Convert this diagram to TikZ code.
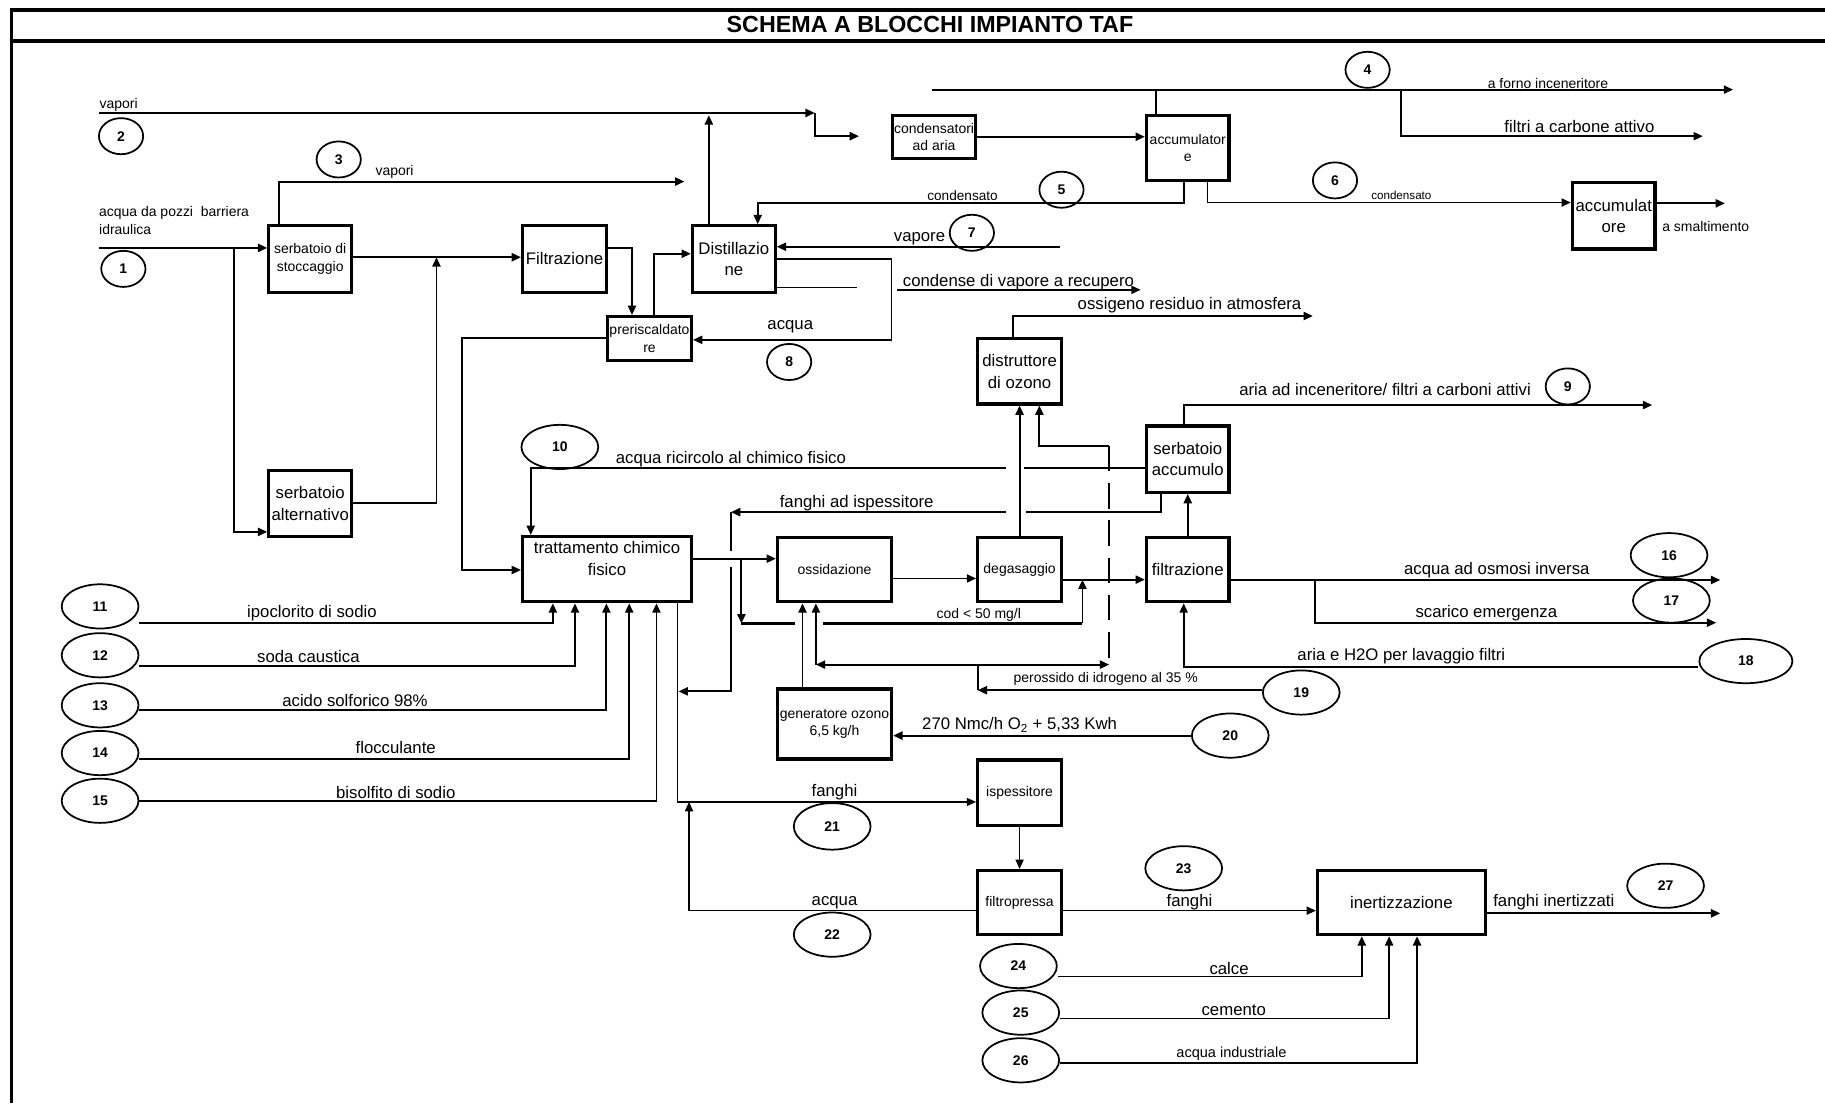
\documentclass[tikz,border=0pt]{standalone}
\usepackage{fontspec}
\setmainfont{Liberation Sans}
\usetikzlibrary{arrows.meta,shapes.geometric}
\newcommand\myL{\fontsize{14.4}{18.5}\selectfont}
\newcommand\myS{\fontsize{12}{15}\selectfont}
\newcommand\myN{\fontsize{12}{14}\selectfont\bfseries}
\begin{document}
\begin{tikzpicture}[x=1pt,y=-1pt,
 box/.style={draw,line width=2.8pt,inner sep=0pt,align=center,font=\myL},
 sbox/.style={box,font=\myS},
 num/.style={draw,ellipse,line width=1.5pt,inner sep=0pt,font=\myN,minimum width=38pt,minimum height=31pt},
 numL/.style={num,minimum width=66pt,minimum height=38pt},
 lbl/.style={inner sep=0pt,font=\myL},
 slbl/.style={inner sep=0pt,font=\myS},
 conn/.style={line width=1.6pt},
 thinconn/.style={line width=1pt},
 arr/.style={conn,-{Triangle[length=8pt,width=7pt]}},
 tarr/.style={thinconn,-{Triangle[length=8pt,width=7pt]}},
 darr/.style={conn,{Triangle[length=8pt,width=7pt]}-{Triangle[length=8pt,width=7pt]}},
]
\useasboundingbox (0,0) rectangle (1568,948);
% frame
\draw[line width=3pt] (10,8.5) -- (1568,8.5);
\draw[line width=3.5pt] (10,35) -- (1568,35);
\draw[line width=2.5pt] (10,7) -- (10,948);
\node[font=\fontsize{20}{24}\selectfont\bfseries] (title) at (799,21) {SCHEMA A BLOCCHI IMPIANTO TAF};

% boxes
\node[sbox,minimum width=71pt,minimum height=57pt] (stocc) at (266.5,222.5) {serbatoio di\\stoccaggio};
\node[box,minimum width=72pt,minimum height=57pt] (filt1) at (485,222.5) {Filtrazione};
\node[box,minimum width=71pt,minimum height=57pt] (dist) at (630.5,222.5) {Distillazio\\ne};
\node[sbox,minimum width=72pt,minimum height=38pt] (prer) at (558,291) {preriscaldato\\re};
\node[box,minimum width=71pt,minimum height=57pt] (alt) at (266.5,432.5) {serbatoio\\alternativo};
\node[box,minimum width=145pt,minimum height=56pt] (tratt) at (521.5,489) {trattamento chimico\\fisico\\\phantom{x}};
\node[sbox,minimum width=98pt,minimum height=55pt] (ossid) at (717,489.5) {ossidazione};
\node[sbox,minimum width=72pt,minimum height=55pt] (degas) at (876,489.5) {degasaggio};
\node[box,minimum width=71pt,minimum height=55pt] (filt2) at (1020.5,489.5) {filtrazione};
\node[box,minimum width=71pt,minimum height=57pt] (sacc) at (1020.5,394.5) {serbatoio\\accumulo};
\node[box,minimum width=72pt,minimum height=56pt] (distr) at (876,319) {distruttore\\di ozono};
\node[sbox,minimum width=98pt,minimum height=60pt] (genoz) at (717,622) {generatore ozono\\6,5 kg/h};
\node[sbox,minimum width=72pt,minimum height=56pt] (isp) at (876,681) {ispessitore};
\node[sbox,minimum width=72pt,minimum height=55pt] (filtrop) at (876,775.5) {filtropressa};
\node[box,minimum width=144pt,minimum height=55pt] (inert) at (1204,775.5) {inertizzazione};
\node[sbox,minimum width=71pt,minimum height=37pt] (cond) at (802.5,117.5) {condensatori\\ad aria};
\node[sbox,minimum width=71pt,minimum height=56pt] (acc1) at (1020.5,127) {accumulator\\e};
\node[box,minimum width=71pt,minimum height=57pt] (acc2) at (1386.5,185.5) {accumulat\\ore};

% numbered ovals
\node[num] (n1) at (106,231) {1};
\node[num] (n2) at (104,117) {2};
\node[num] (n3) at (291,137) {3};
\node[num] (n4) at (1175,60) {4};
\node[num] (n5) at (912,163) {5};
\node[num] (n6) at (1147,155) {6};
\node[num] (n7) at (835,200) {7};
\node[num] (n8) at (678,311) {8};
\node[num] (n9) at (1347,332) {9};
\node[numL] (n10) at (481,384) {10};
\node[numL] (n11) at (86,521) {11};
\node[numL] (n12) at (86,563) {12};
\node[numL] (n13) at (86,606) {13};
\node[numL] (n14) at (86,647) {14};
\node[numL] (n15) at (86,688) {15};
\node[numL] (n16) at (1434,477) {16};
\node[numL] (n17) at (1436,516) {17};
\node[numL,minimum width=80pt] (n18) at (1500,568) {18};
\node[numL] (n19) at (1118,595) {19};
\node[numL] (n20) at (1057,632) {20};
\node[numL,minimum height=40pt] (n21) at (715,710) {21};
\node[numL] (n22) at (715,803) {22};
\node[numL] (n23) at (1017,746) {23};
\node[numL] (n24) at (875,830) {24};
\node[numL] (n25) at (877,870) {25};
\node[numL] (n26) at (877,911) {26};
\node[numL] (n27) at (1431,761) {27};

% coordinates
\coordinate (v2s) at (85,97);
\coordinate (v2m) at (700,97);
\coordinate (v2b) at (700,117);
\coordinate (v2e) at (738,117);
\coordinate (dv) at (609,99);
\coordinate (v3a) at (240,156);
\coordinate (v3e) at (588,156);
\coordinate (in1) at (85,213);
\coordinate (br1) at (201,213);
\coordinate (br1b) at (201,457);
\coordinate (sf) at (375,221);
\coordinate (ac) at (375,432.5);
\coordinate (fp) at (543,213);
\coordinate (pd) at (562,218);
\coordinate (da1) at (766,222.5);
\coordinate (da2) at (766,292);
\coordinate (dl) at (736,247);
\coordinate (cr1) at (771,249);
\coordinate (cr2) at (980,249);
\coordinate (vp) at (911,212);
\coordinate (c5a) at (1017,174.7);
\coordinate (c5b) at (651,174.7);
\coordinate (c6a) at (1037.5,174);
\coordinate (l4s) at (801,77);
\coordinate (l4e) at (1489,77);
\coordinate (a4) at (993,77);
\coordinate (b4) at (1204,77);
\coordinate (b4b) at (1204,117);
\coordinate (b4e) at (1463,117);
\coordinate (sm) at (1482,174.7);
\coordinate (o1) at (870,271.5);
\coordinate (o2) at (1128,271.5);
\coordinate (s1) at (1017,348);
\coordinate (s2) at (1419.5,348);
\coordinate (dz1) at (893,383);
\coordinate (dz2) at (953,383);
\coordinate (pe1) at (701,571);
\coordinate (pe2) at (953,571);
\coordinate (p19) at (840,593);
\coordinate (p19t) at (840,571);
\coordinate (g1) at (689.5,600);
\coordinate (od) at (800,497);
\coordinate (df) at (950,498);
\coordinate (t1) at (637,480);
\coordinate (t2) at (637,535.6);
\coordinate (gA) at (683,535.6);
\coordinate (gB) at (707,535.6);
\coordinate (t3) at (930,535.6);
\coordinate (t4) at (930,498);
\coordinate (f1) at (997.5,440);
\coordinate (fA) at (881.5,440);
\coordinate (fB) at (864,440);
\coordinate (f2) at (628,440);
\coordinate (fC) at (628,473);
\coordinate (fD) at (628,487);
\coordinate (f3) at (628,594);
\coordinate (f4) at (583,594);
\coordinate (r1) at (456,402);
\coordinate (rA) at (880,402);
\coordinate (rB) at (864,402);
\coordinate (q1) at (397,290.7);
\coordinate (q2) at (397,489.7);
\coordinate (k11) at (475,535);
\coordinate (k12) at (494,572);
\coordinate (k13) at (521,610);
\coordinate (k14) at (540.6,652);
\coordinate (k15) at (564,688);
\coordinate (fg1) at (582,689);
\coordinate (a22) at (592,782.4);
\coordinate (a22t) at (592,689);
\coordinate (ie) at (1478,784.7);
\coordinate (k24) at (1170,839);
\coordinate (k25) at (1193.5,875);
\coordinate (k26) at (1217.5,913);
\coordinate (fo) at (1478,498.3);
\coordinate (fb1) at (1130,498.3);
\coordinate (fb2) at (1130,535);
\coordinate (fo2) at (1474.5,535);
\coordinate (k18) at (1017,572.8);

% connectors top
\draw[arr] (v2s) -- (v2m);
\draw[arr] (v2m) -- (v2b) -- (v2e);
\draw[arr] (dist.north -| dv) -- (dv);
\draw[arr] (stocc.north -| v3a) -- (v3a) -- (v3e);
\draw[arr] (in1) -- (stocc.west |- in1);
\draw[arr] (br1) -- (br1b) -- (alt.west |- br1b);
\draw[arr] (stocc.east |- sf) -- (filt1.west |- sf);
\draw[arr] (alt.east |- ac) -- (ac) -- (sf);
\draw[arr] (filt1.east |- fp) -- (fp) -- (prer.north -| fp);
\draw[arr] (prer.north -| pd) -- (pd) -- (dist.west |- pd);
\draw[arr] (dist.east |- da1) -- (da1) -- (da2) -- (prer.east |- da2);
\draw[conn] (dist.east |- dl) -- (dl);
\draw[arr] (cr1) -- (cr2);
\draw[arr] (vp) -- (dist.east |- vp);
\draw[arr] (acc1.south -| c5a) -- (c5a) -- (c5b) -- (dist.north -| c5b);
\draw[arr] (acc1.south -| c6a) -- (c6a) -- (acc2.west |- c6a);
\draw[arr] (cond.east) -- (acc1.west |- cond.east);
\draw[arr] (l4s) -- (l4e);
\draw[conn] (acc1.north -| a4) -- (a4);
\draw[arr] (b4) -- (b4b) -- (b4e);
\draw[arr] (acc2.east |- sm) -- (sm);
\draw[arr] (distr.north -| o1) -- (o1) -- (o2);
\draw[arr] (sacc.north -| s1) -- (s1) -- (s2);

% middle
\draw[arr] (degas.north) -- (distr.south);
\draw[arr] (dz2) -- (dz1) -- (distr.south -| dz1);
\draw[conn,dash pattern=on 22pt off 10pt] (dz2) -- (pe2);
\draw[darr] (pe1) -- (pe2);
\draw[arr] (pe1) -- (ossid.south -| pe1);
\draw[arr] (n19.west |- p19) -- (p19);
\draw[conn] (p19t) -- (p19);
\draw[arr] (genoz.north -| g1) -- (ossid.south -| g1);
\draw[arr] (ossid.east |- od) -- (degas.west |- od);
\draw[arr] (degas.east |- df) -- (filt2.west |- df);
\draw[arr] (tratt.east |- t1) -- (ossid.west |- t1);
\draw[arr] (t1) -- (t2);
\draw[line width=2.4pt] (t2) -- (gA);
\draw[line width=2.4pt] (gB) -- (t3);
\draw[arr] (t3) -- (t4);
\draw[conn] (sacc.south -| f1) -- (f1) -- (fA);
\draw[arr] (fB) -- (f2);
\draw[conn] (f2) -- (fC);
\draw[arr] (fD) -- (f3) -- (f4);
\draw[conn] (sacc.west |- r1) -- (rA);
\draw[arr] (rB) -- (r1) -- (tratt.north -| r1);
\draw[arr] (prer.west |- q1) -- (q1) -- (q2) -- (tratt.west |- q2);
\draw[arr] (filt2.north) -- (sacc.south);
\draw[arr] (filt2.east |- fo) -- (fo);
\draw[arr] (fb1) -- (fb2) -- (fo2);
\draw[arr] (n18.west |- k18) -- (k18) -- (filt2.south -| k18);
\draw[arr] (n20.west) -- (genoz.east |- n20.west);

% chemicals
\draw[arr] (n11.east |- k11) -- (k11) -- (tratt.south -| k11);
\draw[arr] (n12.east |- k12) -- (k12) -- (tratt.south -| k12);
\draw[arr] (n13.east |- k13) -- (k13) -- (tratt.south -| k13);
\draw[arr] (n14.east |- k14) -- (k14) -- (tratt.south -| k14);
\draw[arr] (n15.east |- k15) -- (k15) -- (tratt.south -| k15);

% bottom
\draw[tarr] (tratt.south -| fg1) -- (fg1) -- (isp.west |- fg1);
\draw[tarr] (filtrop.west |- a22) -- (a22) -- (a22t);
\draw[tarr] (isp.south) -- (filtrop.north);
\draw[tarr] (filtrop.east |- a22) -- (inert.west |- a22);
\draw[arr] (inert.east |- ie) -- (ie);
\draw[arr] (n24.east |- k24) -- (k24) -- (inert.south -| k24);
\draw[arr] (n25.east |- k25) -- (k25) -- (inert.south -| k25);
\draw[arr] (n26.east |- k26) -- (k26) -- (inert.south -| k26);

% labels
\node[slbl] (tv2) at (102,90) {vapori};
\node[slbl] (tv3) at (339,148) {vapori};
\node[slbl,anchor=west] (tin1) at (85,183) {acqua da pozzi\ \ barriera};
\node[slbl,anchor=west] (tin1b) at (85,197.5) {idraulica};
\node[slbl,font=\fontsize{11.7}{14}\selectfont] (tc5) at (827,168) {condensato};
\node[slbl,font=\fontsize{10}{12}\selectfont] (tc6) at (1204,168) {condensato};
\node[lbl] (tvap) at (790,205) {vapore};
\node[lbl] (tacq8) at (679,281) {acqua};
\node[lbl] (tcond) at (875,242.5) {condense di vapore a recupero};
\node[lbl] (toss) at (1022,262) {ossigeno residuo in atmosfera};
\node[slbl] (tforno) at (1330,71.6) {a forno inceneritore};
\node[lbl] (tfiltri) at (1357,109) {filtri a carbone attivo};
\node[slbl] (tsmal) at (1465.5,195) {a smaltimento};
\node[lbl] (taria) at (1190,335) {aria ad inceneritore/ filtri a carboni attivi};
\node[lbl] (tric) at (628,394.4) {acqua ricircolo al chimico fisico};
\node[lbl] (tfis) at (736,432.5) {fanghi ad ispessitore};
\node[slbl] (tcod) at (841,528.4) {cod < 50 mg/l};
\node[slbl] (tper) at (950,583.4) {perossido di idrogeno al 35 \%};
\node[lbl] (to2) at (876,623) {270 Nmc/h O\textsubscript{2} + 5,33 Kwh};
\node[lbl] (t11) at (268,527) {ipoclorito di sodio};
\node[lbl] (t12) at (265,564) {soda caustica};
\node[lbl] (t13) at (305,602) {acido solforico 98\%};
\node[lbl] (t14) at (340,642) {flocculante};
\node[lbl] (t15) at (340,681) {bisolfito di sodio};
\node[lbl] (t21) at (717,681) {fanghi};
\node[lbl] (t22) at (717,775.5) {acqua};
\node[lbl] (t23) at (1022,775.5) {fanghi};
\node[lbl] (t27) at (1335,775.5) {fanghi inertizzati};
\node[lbl] (t24) at (1056,832) {calce};
\node[lbl] (t25) at (1060,868) {cemento};
\node[slbl,font=\fontsize{12.5}{15}\selectfont] (t26) at (1058,905.6) {acqua industriale};
\node[lbl] (t16) at (1286,489.7) {acqua ad osmosi inversa};
\node[lbl] (t17) at (1277,527) {scarico emergenza};
\node[lbl] (t18) at (1204,564) {aria e H2O per lavaggio filtri};
\end{tikzpicture}
\end{document}
